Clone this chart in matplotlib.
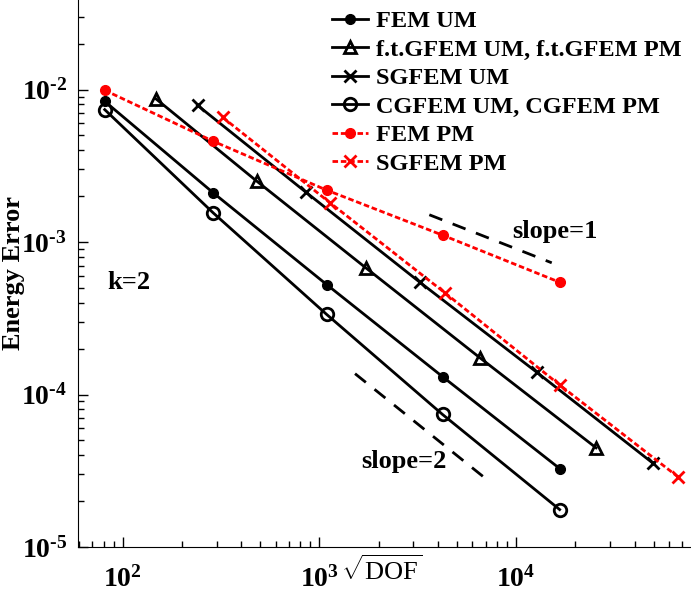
import numpy as np
import matplotlib
matplotlib.use('Agg')
import matplotlib.pyplot as plt
from matplotlib.ticker import FuncFormatter

plt.rcParams['font.family'] = ['Liberation Serif', 'DejaVu Serif']
plt.rcParams['font.weight'] = 'bold'
plt.rcParams['mathtext.fontset'] = 'custom'
plt.rcParams['mathtext.rm'] = 'Liberation Serif:normal'
plt.rcParams['mathtext.bf'] = 'Liberation Serif:bold'

# sqrt(DOF) values and energy errors
x_fem = [81, 289, 1089, 4225, 16641]
fem_um = [8.38e-3, 2.10e-3, 5.26e-4, 1.31e-4, 3.27e-5]
cgfem = [7.39e-3, 1.55e-3, 3.35e-4, 7.40e-5, 1.76e-5]
fem_pm = [9.9e-3, 4.58e-3, 2.19e-3, 1.11e-3, 5.45e-4]

x_gfem = [147, 480, 1720, 6550, 25500]
gfem = [8.73e-3, 2.51e-3, 6.78e-4, 1.74e-4, 4.47e-5]

x_sg_um = [240, 855, 3240, 12730, 49800]
sg_um = [7.89e-3, 2.12e-3, 5.45e-4, 1.40e-4, 3.53e-5]

x_sg_pm = [322, 1132, 4350, 16720, 66800]
sg_pm = [6.58e-3, 1.81e-3, 4.64e-4, 1.15e-4, 2.87e-5]

slope1_x = [3620, 15170]
slope1_y = [1.51e-3, 7.31e-4]
slope2_x = [1517, 7096]
slope2_y = [1.37e-4, 2.77e-5]

fig = plt.figure(figsize=(6.91, 5.93), dpi=100)
ax = fig.add_axes([0.113, 0.0776, 0.887, 0.9224])

red = '#ff0000'
lw = 2.0
ax.plot(x_fem, fem_um, '-', color='k', lw=lw, marker='o', ms=7, label='FEM UM')
ax.plot(x_gfem, gfem, '-', color='k', lw=lw, marker='^', ms=9, mfc='none', mew=2,
        label='f.t.GFEM UM, f.t.GFEM PM')
ax.plot(x_sg_um, sg_um, '-', color='k', lw=lw, marker='x', ms=8, mew=2, label='SGFEM UM')
ax.plot(x_fem, cgfem, '-', color='k', lw=lw, marker='o', ms=9, mfc='none', mew=2,
        label='CGFEM UM, CGFEM PM')
ax.plot(x_fem, fem_pm, color=red, lw=lw, dashes=(2, 1), marker='o', ms=7, label='FEM PM')
ax.plot(x_sg_pm, sg_pm, color=red, lw=lw, dashes=(2, 1), marker='x', ms=8, mew=2,
        label='SGFEM PM')

ax.plot(slope1_x, slope1_y, color='k', lw=2, dashes=(5, 4))
ax.plot(slope2_x, slope2_y, color='k', lw=2, dashes=(5, 4))

ax.text(15670, 1.17e-3, 'slope=1', fontsize=19, fontweight='bold', va='center', ha='center')
ax.text(2692, 3.64e-5, 'slope=2', fontsize=19, fontweight='bold', va='center', ha='center')
ax.text(108, 5.42e-4, 'k=2', fontsize=19, fontweight='bold', va='center', ha='center')

ax.set_xscale('log')
ax.set_yscale('log')
ax.set_xlim(59.3, 77440)
ax.set_ylim(1e-5, 0.0387)


def pow10(v, pos):
    e = int(round(np.log10(v)))
    s = str(e).replace('-', '\u2010')
    return r'$\mathdefault{10^{%s}}$' % s


ax.xaxis.set_major_formatter(FuncFormatter(pow10))
ax.yaxis.set_major_formatter(FuncFormatter(pow10))

for s in ['top', 'right']:
    ax.spines[s].set_visible(False)
ax.tick_params(which='both', direction='in', labelsize=20, width=1)
ax.tick_params(which='major', length=7)
ax.tick_params(which='minor', length=4)
ax.tick_params(axis='x', pad=14)
ax.tick_params(axis='y', pad=8)
for lab in ax.get_xticklabels() + ax.get_yticklabels():
    lab.set_fontweight('bold')

ax.set_ylabel('Energy Error', fontsize=19, fontweight='bold')
ax.yaxis.set_label_coords(-0.087, 0.5)
ax.set_xlabel(r'$\sqrt{\mathrm{DOF}}$', fontsize=19, fontweight='normal')
ax.xaxis.set_label_coords(0.496, -0.015)

ax.legend(loc='upper left', bbox_to_anchor=(332 / 691, 1 - 10 / 593), bbox_transform=fig.transFigure,
          frameon=False, fontsize=17.5, handlelength=1.5, handletextpad=0.3,
          labelspacing=0.27, borderpad=0, borderaxespad=0)

fig.savefig('out.png', dpi=100)
